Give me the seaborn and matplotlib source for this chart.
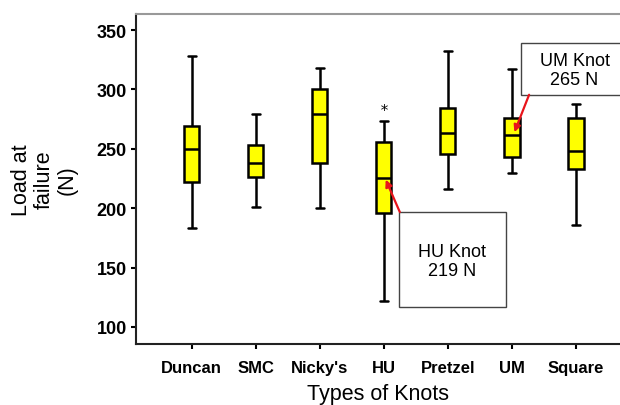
import matplotlib
matplotlib.use('Agg')
import matplotlib.pyplot as plt
from matplotlib.patches import Rectangle
import numpy as np
import pandas as pd
import seaborn as sns

# five-number summaries (N)
knots = ['Duncan', 'SMC', "Nicky's", 'HU', 'Pretzel', 'UM', 'Square']
whisker_low = [183, 201, 200, 122, 216, 230, 186]
q1 = [222, 226, 238, 196, 246, 243, 233]
median = [250, 238, 279, 225, 263, 262, 248]
q3 = [269, 253, 300, 256, 284, 276, 276]
whisker_high = [328, 279, 318, 273, 332, 317, 288]

outlier_knots = ['HU']
outlier_loads = [285]

yticks = [100, 150, 200, 250, 300, 350]


def summary_frame():
    # 5 points per knot -> quartiles land exactly on q1 / median / q3
    rows = []
    for i, k in enumerate(knots):
        for v in (whisker_low[i], q1[i], median[i], q3[i], whisker_high[i]):
            rows.append({'knot': k, 'load': v})
    return pd.DataFrame(rows)


sns.set_style('ticks')
plt.rcParams['font.family'] = ['Liberation Sans', 'DejaVu Sans']
plt.rcParams['text.color'] = 'black'
plt.rcParams['axes.labelcolor'] = 'black'
plt.rcParams['xtick.color'] = 'black'
plt.rcParams['ytick.color'] = 'black'

fig = plt.figure(figsize=(6.2, 4.06), dpi=100)
ax = fig.add_axes([0.219, 0.150, 0.781, 0.813])

df = summary_frame()
sns.boxplot(data=df, x='knot', y='load', order=knots, ax=ax,
            whis=(0, 100), width=0.24, color='#ffff00', saturation=1,
            linecolor='black', linewidth=1.8, showfliers=False)

out = pd.DataFrame({'knot': outlier_knots, 'load': outlier_loads})
sns.stripplot(data=out, x='knot', y='load', order=knots, ax=ax,
              jitter=False, marker='$*$', color='black', size=5)

ax.set_xlim(-0.875, 6.69)
ax.set_ylim(85.5, 363.5)
ax.set_yticks(yticks)

ax.tick_params(axis='x', length=3.5, width=1.5, pad=8, labelsize=12)
ax.tick_params(axis='y', length=3.5, width=1.5, pad=3, labelsize=13)
for lab in ax.get_xticklabels() + ax.get_yticklabels():
    lab.set_fontweight('bold')

ax.set_xlabel('Types of Knots', fontsize=15.5, labelpad=6)
ax.set_ylabel('Load at\nfailure\n(N)', fontsize=15.5, linespacing=1.1)
ax.yaxis.set_label_coords(-0.12, 0.5)

for s in ('left', 'bottom'):
    ax.spines[s].set_color('#222222')
    ax.spines[s].set_linewidth(1.5)
ax.spines['top'].set_color('#999999')
ax.spines['top'].set_linewidth(1.5)
ax.spines['right'].set_visible(False)

# callout boxes
ax.add_patch(Rectangle((3.23, 116.6), 1.68, 80.1, facecolor='white',
                       edgecolor='#444444', linewidth=1.0, zorder=4))
ax.text(4.07, 155.6, 'HU Knot\n219 N', ha='center', va='center',
        fontsize=13, zorder=5, linespacing=1.2)
ax.add_patch(Rectangle((5.14, 295.5), 1.75, 43.5, facecolor='white',
                       edgecolor='#444444', linewidth=1.0, zorder=4,
                       clip_on=True))
ax.text(5.98, 316.5, 'UM Knot\n265 N', ha='center', va='center',
        fontsize=13, zorder=5, linespacing=1.2)

arrow = dict(arrowstyle='-|>', color='#e8141b', lw=1.6,
             mutation_scale=10, shrinkA=0, shrinkB=0)
ax.annotate('', xy=(3.03, 224), xytext=(3.25, 196.7), arrowprops=arrow,
            zorder=6)
ax.annotate('', xy=(5.04, 264), xytext=(5.27, 295.5), arrowprops=arrow,
            zorder=6)

fig.savefig('out.png', dpi=100)
